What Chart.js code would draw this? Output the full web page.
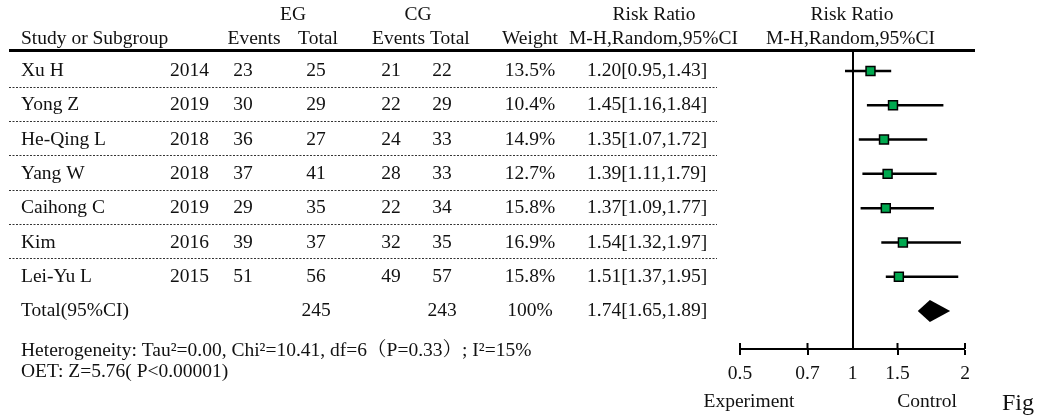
<!DOCTYPE html>
<html>
<head>
<meta charset="utf-8">
<script src="https://cdn.jsdelivr.net/npm/chart.js@4.4.1/dist/chart.umd.min.js"></script>
<style>
  html, body { margin: 0; padding: 0; background: #fff; }
  #wrap { position: relative; width: 1038px; height: 420px; }
</style>
</head>
<body>
<div id="wrap"><canvas id="forest"></canvas></div>
<script>
// ---- study data ----
const studies   = ['Xu H', 'Yong Z', 'He-Qing L', 'Yang W', 'Caihong C', 'Kim', 'Lei-Yu L'];
const years     = [2014, 2019, 2018, 2018, 2019, 2016, 2015];
const egEvents  = [23, 30, 36, 37, 29, 39, 51];
const egTotal   = [25, 29, 27, 41, 35, 37, 56];
const cgEvents  = [21, 22, 24, 28, 22, 32, 49];
const cgTotal   = [22, 29, 33, 33, 34, 35, 57];
const weights   = [13.5, 10.4, 14.9, 12.7, 15.8, 16.9, 15.8];
const riskRatio = [1.20, 1.45, 1.35, 1.39, 1.37, 1.54, 1.51];
const ciLow     = [0.95, 1.16, 1.07, 1.11, 1.09, 1.32, 1.37];
const ciHigh    = [1.43, 1.84, 1.72, 1.79, 1.77, 1.97, 1.95];

// ---- pooled result ----
const pooledEgTotal = 245;
const pooledCgTotal = 243;
const pooledWeight  = 100;
const pooledRR      = 1.74;
const pooledLow     = 1.65;
const pooledHigh    = 1.89;

// ---- axis ticks ----
const axisTicks = [0.5, 0.7, 1, 1.5, 2];

const heterogeneityText = 'Heterogeneity: Tau\u00B2=0.00, Chi\u00B2=10.41, df=6\uFF08P=0.33\uFF09; I\u00B2=15%';
const overallText = 'OET: Z=5.76( P<0.00001)';

const FONT = '"Liberation Serif", "Times New Roman", "Noto Serif CJK SC", "Noto Sans CJK SC", serif';
const FS = 19.5;
const GREEN = '#00A94F';
const TOTAL_ROW = studies.length;

// Axis with the tick stops placed at fixed fractions of the axis length,
// values in between interpolated linearly.
const AXIS_STOPS = [0, 0.3, 0.5, 0.7, 1];
class PiecewiseScale extends Chart.LinearScale {
  buildTicks() { return axisTicks.map(v => ({ value: v })); }
  _fraction(v) {
    const t = axisTicks, f = AXIS_STOPS;
    let k = 0;
    while (k < t.length - 2 && v > t[k + 1]) k++;
    return f[k] + (v - t[k]) / (t[k + 1] - t[k]) * (f[k + 1] - f[k]);
  }
  getPixelForValue(v) { return this.getPixelForDecimal(this._fraction(v)); }
  getValueForPixel(p) {
    const d = this.getDecimalForPixel(p), t = axisTicks, f = AXIS_STOPS;
    let k = 0;
    while (k < f.length - 2 && d > f[k + 1]) k++;
    return t[k] + (d - f[k]) / (f[k + 1] - f[k]) * (t[k + 1] - t[k]);
  }
}
PiecewiseScale.id = 'piecewise';
PiecewiseScale.defaults = Chart.LinearScale.defaults;
Chart.register(PiecewiseScale);

const fmt2 = v => v.toFixed(2);
const rrLabel = (e, l, h) => `${fmt2(e)}[${fmt2(l)},${fmt2(h)}]`;

// ---- datasets ----
const pointSet = {
  label: 'Study estimate',
  data: riskRatio.map((v, i) => ({ x: v, y: i })),
  showLine: false,
  pointStyle: 'rect',
  pointRadius: 6.3,
  pointBackgroundColor: GREEN,
  pointBorderColor: '#000',
  pointBorderWidth: 1.5,
  order: 1
};
const ciSets = studies.map((s, i) => ({
  label: s,
  data: [{ x: ciLow[i], y: i }, { x: ciHigh[i], y: i }],
  borderColor: '#000',
  borderWidth: 2.5,
  pointRadius: 0,
  fill: false,
  order: 2
}));
const DIAMOND_HALF = 0.32;
const diamondTop = {
  label: 'Pooled upper',
  data: [{ x: pooledLow, y: TOTAL_ROW }, { x: pooledRR, y: TOTAL_ROW - DIAMOND_HALF }, { x: pooledHigh, y: TOTAL_ROW }],
  borderWidth: 0, pointRadius: 0, fill: false, tension: 0, order: 3
};
const diamondBottom = {
  label: 'Pooled lower',
  data: [{ x: pooledLow, y: TOTAL_ROW }, { x: pooledRR, y: TOTAL_ROW + DIAMOND_HALF }, { x: pooledHigh, y: TOTAL_ROW }],
  borderWidth: 0, pointRadius: 0, fill: '-1', backgroundColor: '#000', tension: 0, order: 3
};

// ---- table text drawn beside the plot ----
const tablePlugin = {
  id: 'forestTable',
  afterDraw(chart) {
    const ctx = chart.ctx;
    const ys = chart.scales.y;
    const xs = chart.scales.x;
    ctx.save();
    ctx.fillStyle = '#111';
    ctx.textBaseline = 'middle';
    ctx.font = `${FS}px ${FONT}`;

    const put = (txt, x, y, align) => { ctx.textAlign = align || 'left'; ctx.fillText(txt, x, y); };

    // header
    put('EG', 293, 15, 'center');
    put('CG', 418, 15, 'center');
    put('Risk Ratio', 654, 15, 'center');
    put('Risk Ratio', 852, 15, 'center');
    put('Study or Subgroup', 21, 39);
    put('Events', 254, 39, 'center');
    put('Total', 318, 39, 'center');
    put('Events Total', 372, 39);
    put('Weight', 502, 39);
    put('M-H,Random,95%CI', 569, 39);
    put('M-H,Random,95%CI', 766, 39);

    // thick rule under header
    ctx.strokeStyle = '#000';
    ctx.lineWidth = 3;
    ctx.beginPath(); ctx.moveTo(9, 50.5); ctx.lineTo(975, 50.5); ctx.stroke();

    // study rows
    studies.forEach((s, i) => {
      const y = ys.getPixelForValue(i);
      put(s, 21, y);
      put(String(years[i]), 170, y);
      put(String(egEvents[i]), 243, y, 'center');
      put(String(egTotal[i]), 316, y, 'center');
      put(String(cgEvents[i]), 391, y, 'center');
      put(String(cgTotal[i]), 442, y, 'center');
      put(weights[i].toFixed(1) + '%', 530, y, 'center');
      put(rrLabel(riskRatio[i], ciLow[i], ciHigh[i]), 587, y);
      if (i < studies.length - 1) {
        const yl = Math.round(ys.getPixelForValue(i + 0.46)) + 0.5;
        ctx.save();
        ctx.strokeStyle = '#333';
        ctx.lineWidth = 1;
        ctx.setLineDash([2, 1.5]);
        ctx.beginPath(); ctx.moveTo(9, yl); ctx.lineTo(717, yl); ctx.stroke();
        ctx.restore();
      }
    });

    // pooled row
    const yt = ys.getPixelForValue(TOTAL_ROW);
    put('Total(95%CI)', 21, yt);
    put(String(pooledEgTotal), 316, yt, 'center');
    put(String(pooledCgTotal), 442, yt, 'center');
    put(pooledWeight + '%', 530, yt, 'center');
    put(rrLabel(pooledRR, pooledLow, pooledHigh), 587, yt);

    // statistics
    put(heterogeneityText, 21, 351);
    put(overallText, 21, 372);

    // tick marks above the axis line (the line at 1 already reaches it)
    const axisY = xs.top;
    ctx.strokeStyle = '#000';
    ctx.lineWidth = 2;
    axisTicks.forEach(v => {
      if (v === 1) return;
      const px = xs.getPixelForValue(v);
      ctx.beginPath(); ctx.moveTo(px, axisY - 6); ctx.lineTo(px, axisY); ctx.stroke();
    });

    // favours labels and caption
    put('Experiment', 749, 402, 'center');
    put('Control', 927, 402, 'center');
    ctx.font = `24px ${FONT}`;
    put('Fig', 1002, 404);
    ctx.restore();
  }
};

new Chart(document.getElementById('forest'), {
  type: 'line',
  data: { datasets: [pointSet, ...ciSets, diamondTop, diamondBottom] },
  plugins: [tablePlugin],
  options: {
    responsive: true,
    maintainAspectRatio: false,
    animation: false,
    events: [],
    layout: { padding: { left: 740, right: 73, top: 50, bottom: 0 } },
    plugins: { legend: { display: false }, tooltip: { enabled: false } },
    scales: {
      x: {
        type: 'piecewise',
        min: 0.5,
        max: 2,
        afterFit(s) { s.height = 71; },
        border: { display: true, color: '#000', width: 2 },
        grid: {
          drawOnChartArea: true,
          drawTicks: true,
          tickLength: 6,
          tickWidth: 2,
          color: c => (c.tick && c.tick.value === 1 ? '#000' : 'rgba(0,0,0,0)'),
          lineWidth: c => (c.tick && c.tick.value === 1 ? 2 : 0),
          tickColor: c => (c.tick && c.tick.value === 1 ? 'rgba(0,0,0,0)' : '#000')
        },
        ticks: {
          autoSkip: false,
          maxRotation: 0,
          padding: 7,
          color: '#111',
          font: { family: FONT, size: FS },
          callback: v => String(v)
        }
      },
      y: {
        type: 'linear',
        reverse: true,
        min: -0.6125,
        max: 8.1083,
        display: false
      }
    }
  }
});
</script>
</body>
</html>
